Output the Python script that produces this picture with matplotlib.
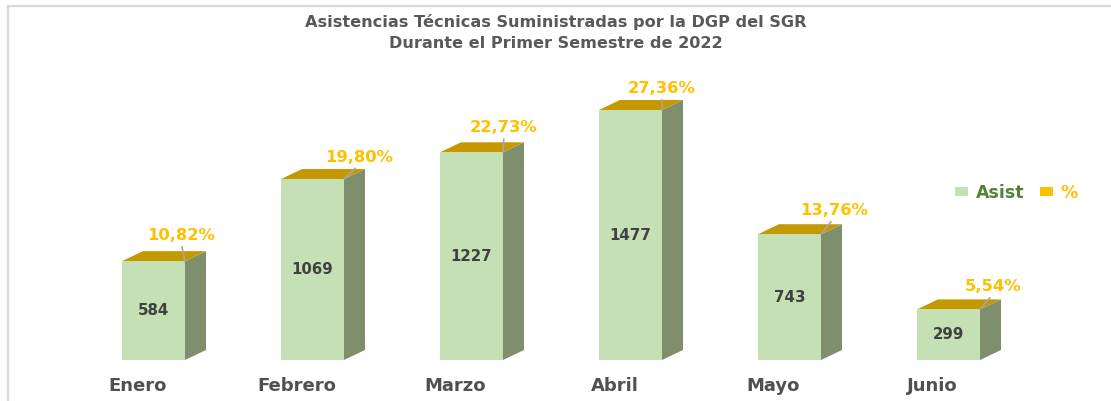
import matplotlib
matplotlib.use("Agg")
import matplotlib.pyplot as plt
from matplotlib.patches import Polygon, Patch
from matplotlib.lines import Line2D
import numpy as np

# ---- data ----
months = ["Enero", "Febrero", "Marzo", "Abril", "Mayo", "Junio"]
asist = [584, 1069, 1227, 1477, 743, 299]
pct_labels = ["10,82%", "19,80%", "22,73%", "27,36%", "13,76%", "5,54%"]
title = "Asistencias Técnicas Suministradas por la DGP del SGR\nDurante el Primer Semestre de 2022"

# ---- style ----
FRONT = "#c5e0b4"
SIDE = "#7f8f6e"
TOP = "#c59800"
GOLD = "#ffc000"
GREEN_TXT = "#548235"
LBL = "#404040"
MONTH_C = "#505050"
TITLE_C = "#595959"
# percent label nudges (pixels, relative to front-top-right corner)
pct_dx = [-4, 15, 1, 0, 13, 13]
pct_dy = [26, 22, 25, 22, 24, 23]

W, H, DPI = 1111, 401, 100
fig = plt.figure(figsize=(W / DPI, H / DPI), dpi=DPI)
ax = fig.add_axes([0, 0, 1, 1])
ax.axis("off")

# scales: category spacing 159 px, first category at 153.5 px; baseline at 41 px from bottom
ppu_x = 159.0
x0_px = 153.5
ppu_y = 250.0 / max(asist)
base_px = 41.0
ax.set_xlim(-x0_px / ppu_x, (W - x0_px) / ppu_x)
ax.set_ylim(-base_px / ppu_y, (H - base_px) / ppu_y)

bw = 63.0 / 159.0
dx_px, dy_px = 21.0, 10.0

xs = np.arange(len(months))
ax.bar(xs, asist, width=bw, color=FRONT, edgecolor="none", zorder=3)

inv = ax.transData.inverted()
def off(xd, yd, ox, oy):
    p = ax.transData.transform((xd, yd))
    return inv.transform((p[0] + ox, p[1] + oy))

for i, v in enumerate(asist):
    xl, xr = i - bw / 2, i + bw / 2
    side = [(xr, 0), tuple(off(xr, 0, dx_px, dy_px)), tuple(off(xr, v, dx_px, dy_px)), (xr, v)]
    top = [(xl, v), tuple(off(xl, v, dx_px, dy_px)), tuple(off(xr, v, dx_px, dy_px)), (xr, v)]
    ax.add_patch(Polygon(side, closed=True, facecolor=SIDE, edgecolor="none", zorder=2))
    ax.add_patch(Polygon(top, closed=True, facecolor=TOP, edgecolor="none", zorder=2))
    ax.text(i, v / 2, str(v), ha="center", va="center", fontsize=10.8,
            fontweight="bold", color=LBL, family="DejaVu Sans", zorder=5)
    ax.annotate(pct_labels[i], xy=(xr, v), xytext=(pct_dx[i], pct_dy[i]),
                textcoords="offset pixels", ha="center", va="center",
                fontsize=11.8, fontweight="bold", color=GOLD, family="DejaVu Sans",
                arrowprops=dict(arrowstyle="-", color="#a6a6a6", lw=1.2,
                                shrinkA=1, shrinkB=0, relpos=(0.5, 0.0)),
                zorder=6)
    ax.annotate(months[i], xy=(i, 0), xytext=(-16, -26), textcoords="offset pixels",
                ha="center", va="center", fontsize=13, fontweight="bold",
                color=MONTH_C, family="DejaVu Sans")

fig.text(0.5, 1 - 32.5 / H, title, ha="center", va="center", fontsize=11.6,
         fontweight="bold", color=TITLE_C, linespacing=1.45,
         family="DejaVu Sans")

handles = [Patch(facecolor=FRONT, edgecolor="none"), Patch(facecolor=GOLD, edgecolor="none")]
leg = fig.legend(handles, ["Asist", "%"], loc="center left",
                 bbox_to_anchor=(955.0 / W, 1 - 193.0 / H), ncol=2, frameon=False,
                 handlelength=0.75, handleheight=0.45, handletextpad=0.45,
                 columnspacing=0.9, prop={"family": "DejaVu Sans", "weight": "bold", "size": 12.5},
                 borderaxespad=0, borderpad=0)
for t, c in zip(leg.get_texts(), [GREEN_TXT, GOLD]):
    t.set_color(c)

# frame lines
fig.add_artist(Line2D([7.5 / W, 7.5 / W], [0, 1 - 5.5 / H], transform=fig.transFigure,
                      color="#d9d9d9", lw=1.6))
fig.add_artist(Line2D([7.5 / W, 1], [1 - 5.5 / H, 1 - 5.5 / H], transform=fig.transFigure,
                      color="#d9d9d9", lw=1.6))

fig.savefig("out.png", dpi=DPI)
